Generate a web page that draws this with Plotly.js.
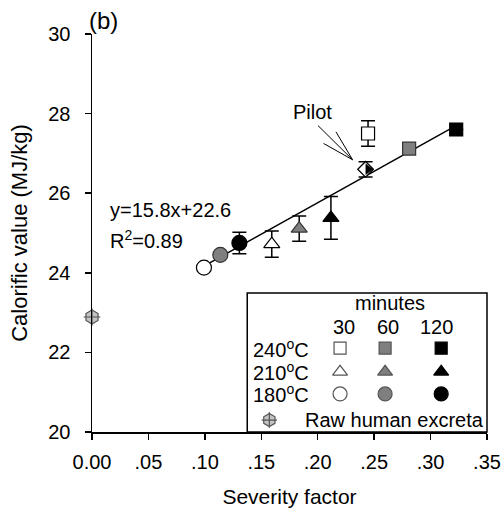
<!DOCTYPE html>
<html>
<head>
<meta charset="utf-8">
<script src="https://cdn.plot.ly/plotly-3.0.1.min.js"></script>
<style>html,body{margin:0;padding:0;background:#fff;}#chart{width:504px;height:510px;}</style>
</head>
<body>
<div id="chart"></div>
<script>
// ---- data ----
const minutes = ['30', '60', '120'];
const minuteColors = ['#ffffff', '#7f7f7f', '#000000'];

const x240 = [0.2446, 0.281, 0.3227];
const y240 = [27.5, 27.12, 27.6];
const e240 = [0.32, 0, 0];

const x210 = [0.1593, 0.1836, 0.2117];
const y210 = [24.72, 25.11, 25.38];
const e210 = [0.33, 0.32, 0.54];

const x180 = [0.0992, 0.1137, 0.1306];
const y180 = [24.13, 24.45, 24.75];
const e180 = [0, 0, 0.27];

const xPilot = [0.2424];
const yPilot = [26.6];
const ePilot = [0.19];

const xRaw = [0];
const yRaw = [22.89];

const fitSlope = 15.8;
const fitIntercept = 22.6;
const fitR2 = 0.89;
const fitRange = [0.094, 0.325];

const xTickVals = [0, 0.05, 0.10, 0.15, 0.20, 0.25, 0.30, 0.35];
const xTickText = ['0.00', '.05', '.10', '.15', '.20', '.25', '.30', '.35'];
const yTickVals = [20, 22, 24, 26, 28, 30];

// ---- build ----
const FONT = 'Liberation Sans, Arial, sans-serif';
const errStyle = {type: 'data', thickness: 1.5, width: 7, color: '#000'};

const traces = [];
// regression line
traces.push({
  x: fitRange, y: fitRange.map(v => fitSlope * v + fitIntercept),
  mode: 'lines', line: {color: '#000', width: 1.5}, hoverinfo: 'skip'
});

function series(xs, ys, es, symbol, size) {
  return {
    x: xs, y: ys, mode: 'markers', cliponaxis: false,
    error_y: Object.assign({array: es}, errStyle),
    marker: {symbol: symbol, size: size, color: minuteColors,
             line: {color: ['#000', '#333', '#000'], width: 1.2}}
  };
}
traces.push(series(x180, y180, e180, 'circle', 15));
traces.push(series(x210, y210, e210, 'triangle-up', 14));
traces.push(series(x240, y240, e240, 'square', 13));

// pilot: half white / half black diamond
traces.push({
  x: xPilot, y: yPilot, mode: 'markers', cliponaxis: false,
  error_y: Object.assign({array: ePilot}, errStyle),
  marker: {symbol: 'diamond', size: 12, color: '#fff', line: {color: '#000', width: 1.3}}
});
traces.push({
  x: xPilot.map(v => v + 0.0022), y: yPilot, mode: 'markers', cliponaxis: false,
  marker: {symbol: 'triangle-right', size: 10, color: '#000', line: {width: 0}}
});

// raw human excreta
traces.push({
  x: xRaw, y: yRaw, mode: 'markers', cliponaxis: false,
  marker: {symbol: 'hexagon', size: 14, color: '#c4c4c4', line: {color: '#555', width: 1.2}}
});
traces.push({
  x: xRaw, y: yRaw, mode: 'markers', cliponaxis: false,
  marker: {symbol: 'cross-thin', size: 12, color: '#555', line: {color: '#555', width: 1.2}}
});

// ---- custom legend (drawn in an overlay 0..1 axis) ----
const legCols = [0.628, 0.742, 0.884];
const legRows = [0.2106, 0.1513, 0.0956];
const legRawRow = 0.030;
const legSymbols = ['square', 'triangle-up', 'circle'];
const legSizes = [12, 13, 14];
const legLabels = ['240<sup>o</sup>C', '210<sup>o</sup>C', '180<sup>o</sup>C'];
for (let r = 0; r < 3; r++) {
  traces.push({
    x: legCols, y: legCols.map(() => legRows[r]), xaxis: 'x2', yaxis: 'y2',
    mode: 'markers', cliponaxis: false, hoverinfo: 'skip',
    marker: {symbol: legSymbols[r], size: legSizes[r], color: minuteColors,
             line: {color: ['#555', '#555', '#000'], width: 1.2}}
  });
}
traces.push({
  x: [0.449], y: [legRawRow], xaxis: 'x2', yaxis: 'y2', mode: 'markers', cliponaxis: false,
  marker: {symbol: 'hexagon', size: 13, color: '#c4c4c4', line: {color: '#555', width: 1.2}}
});
traces.push({
  x: [0.449], y: [legRawRow], xaxis: 'x2', yaxis: 'y2', mode: 'markers', cliponaxis: false,
  marker: {symbol: 'cross-thin', size: 11, color: '#555', line: {color: '#555', width: 1.2}}
});

const ann = [];
const tf = {family: FONT, size: 20, color: '#000'};
ann.push({xref: 'paper', yref: 'paper', x: -0.012, y: 1.034, xanchor: 'left', yanchor: 'middle',
          text: '(b)', showarrow: false, font: {family: FONT, size: 24, color: '#000'}});
ann.push({xref: 'x', yref: 'y', x: 0.0142, y: 25.585, xanchor: 'left', yanchor: 'middle',
          text: 'y=' + fitSlope + 'x+' + fitIntercept, showarrow: false, font: tf});
ann.push({xref: 'x', yref: 'y', x: 0.0142, y: 24.83, xanchor: 'left', yanchor: 'middle',
          text: 'R<sup>2</sup>=' + fitR2.toFixed(2), showarrow: false, font: tf});
ann.push({xref: 'x', yref: 'y', x: 0.195, y: 28.05, xanchor: 'center', yanchor: 'middle',
          text: 'Pilot', showarrow: false, font: tf});
// legend texts
ann.push({xref: 'paper', yref: 'paper', x: 0.755, y: 0.3245, xanchor: 'center', yanchor: 'middle',
          text: 'minutes', showarrow: false, font: tf});
[0.6384, 0.75, 0.8715].forEach((cx, i) => {
  ann.push({xref: 'paper', yref: 'paper', x: cx, y: 0.265, xanchor: 'center', yanchor: 'middle',
            text: minutes[i], showarrow: false, font: tf});
});
legLabels.forEach((t, i) => {
  ann.push({xref: 'paper', yref: 'paper', x: 0.402, y: legRows[i], xanchor: 'left', yanchor: 'middle',
            text: t, showarrow: false, font: tf});
});
ann.push({xref: 'paper', yref: 'paper', x: 0.533, y: legRawRow, xanchor: 'left', yanchor: 'middle',
          text: 'Raw human excreta', showarrow: false, font: tf});

// pilot pointer lines (decoration)
const pointerTip = [0.2309, 26.84];
const pointerStarts = [[0.2002, 27.70], [0.2162, 27.54], [0.2052, 27.25]];
const shapes = pointerStarts.map(p => ({
  type: 'line', xref: 'x', yref: 'y', x0: p[0], y0: p[1], x1: pointerTip[0], y1: pointerTip[1],
  line: {color: '#000', width: 1}
}));
shapes.push({type: 'rect', xref: 'paper', yref: 'paper', x0: 0.393, x1: 1.0, y0: 0, y1: 0.349,
             line: {color: '#000', width: 1.5}, fillcolor: 'rgba(0,0,0,0)', layer: 'above'});

const layout = {
  width: 504, height: 510,
  margin: {l: 92, r: 17, t: 34, b: 78},
  paper_bgcolor: '#fff', plot_bgcolor: '#fff',
  showlegend: false,
  font: {family: FONT, size: 20, color: '#000'},
  xaxis: {
    range: [0, 0.35], tickvals: xTickVals, ticktext: xTickText,
    showline: true, linecolor: '#000', linewidth: 1.5, mirror: false,
    ticks: 'outside', ticklen: 6, tickwidth: 1.5, tickcolor: '#000',
    showgrid: false, zeroline: false, ticklabelstandoff: 5,
    tickfont: {family: FONT, size: 20},
    title: {text: 'Severity factor', font: {family: FONT, size: 21}, standoff: 18}
  },
  yaxis: {
    range: [20, 30], tickvals: yTickVals,
    showline: true, linecolor: '#000', linewidth: 1.5, mirror: false,
    ticks: 'outside', ticklen: 6, tickwidth: 1.5, tickcolor: '#000',
    showgrid: false, zeroline: false, ticklabelstandoff: 10,
    tickfont: {family: FONT, size: 20},
    title: {text: 'Calorific value (MJ/kg)', font: {family: FONT, size: 22}, standoff: 14}
  },
  xaxis2: {overlaying: 'x', range: [0, 1], visible: false, fixedrange: true},
  yaxis2: {overlaying: 'y', range: [0, 1], visible: false, fixedrange: true},
  shapes: shapes,
  annotations: ann
};

Plotly.newPlot('chart', traces, layout, {staticPlot: true, displayModeBar: false});
</script>
</body>
</html>
